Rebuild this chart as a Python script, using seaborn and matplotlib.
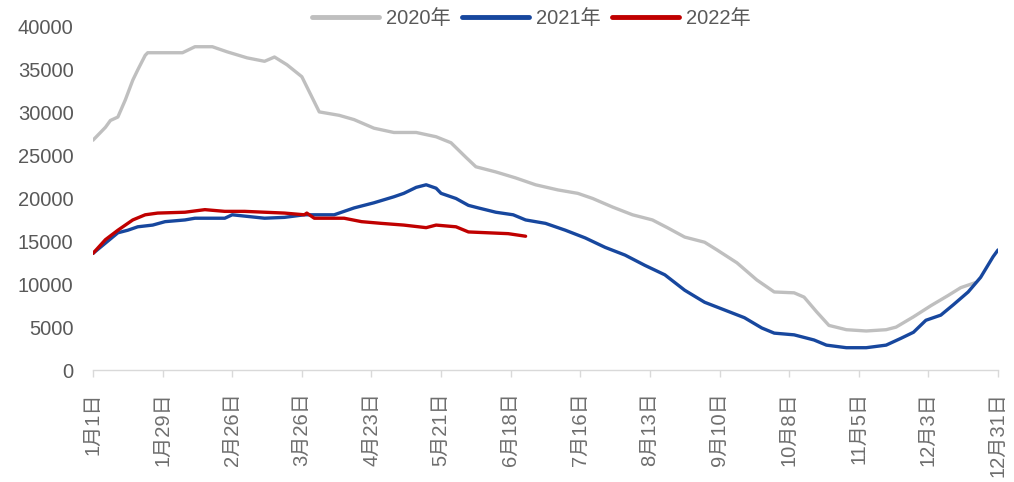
import numpy as np
import pandas as pd
import matplotlib
matplotlib.use("Agg")
import matplotlib.pyplot as plt
import seaborn as sns

# ---- data (day index from Jan 1) ----
days_2020 = [0, 3, 5, 7, 10, 13, 16, 18, 21, 22, 36, 41, 48, 54, 62, 69, 73, 78, 84, 91,
             99, 105, 113, 121, 130, 138, 144, 150, 154, 162, 170, 178, 187, 195, 201, 209,
             217, 225, 231, 238, 246, 251, 259, 267, 274, 282, 286, 291, 296, 303, 311, 319,
             323, 330, 337, 344, 349, 355]
vals_2020 = [26800, 27700, 28300, 29100, 29500, 31500, 33800, 35000, 36700, 37000, 37000,
             37700, 37700, 37100, 36400, 36000, 36500, 35600, 34200, 30100, 29700, 29200,
             28200, 27700, 27700, 27200, 26500, 24800, 23700, 23100, 22400, 21600, 21000,
             20600, 20000, 19000, 18100, 17500, 16600, 15500, 14900, 14000, 12500, 10500,
             9100, 9000, 8500, 6800, 5200, 4700, 4550, 4700, 5000, 6200, 7500, 8700, 9600,
             10200]

days_2021 = [0, 5, 10, 14, 18, 24, 29, 37, 41, 53, 56, 69, 77, 85, 97, 105, 113, 121, 125,
             130, 134, 138, 140, 146, 151, 155, 162, 169, 174, 182, 190, 198, 206, 214, 222,
             230, 238, 246, 254, 262, 269, 274, 282, 290, 295, 303, 311, 319, 325, 330, 335,
             341, 346, 352, 357, 362, 364]
vals_2021 = [13600, 14800, 16000, 16300, 16700, 16900, 17300, 17500, 17700, 17700, 18100,
             17700, 17800, 18100, 18100, 18900, 19500, 20200, 20600, 21300, 21600, 21200,
             20600, 20000, 19200, 18900, 18400, 18100, 17500, 17100, 16300, 15400, 14300,
             13400, 12200, 11100, 9300, 7900, 7000, 6100, 4900, 4300, 4100, 3500, 2900,
             2600, 2600, 2900, 3700, 4400, 5800, 6400, 7600, 9100, 10800, 13200, 14000]

days_2022 = [0, 5, 10, 16, 21, 26, 37, 45, 53, 61, 69, 77, 85, 86, 89, 101, 108, 116, 125,
             134, 138, 146, 151, 159, 167, 174]
vals_2022 = [13600, 15200, 16300, 17500, 18100, 18300, 18400, 18700, 18500, 18500, 18400,
             18300, 18100, 18300, 17700, 17700, 17300, 17100, 16900, 16600, 16900, 16700,
             16100, 16000, 15900, 15600]

series_names = ["2020年", "2021年", "2022年"]
tick_days = [0, 28, 56, 84, 112, 140, 168, 196, 224, 252, 280, 308, 336, 364]
tick_labels = ["1月1日", "1月29日", "2月26日", "3月26日", "4月23日", "5月21日", "6月18日",
               "7月16日", "8月13日", "9月10日", "10月8日", "11月5日", "12月3日", "12月31日"]
y_ticks = [0, 5000, 10000, 15000, 20000, 25000, 30000, 35000, 40000]

df = pd.concat([
    pd.DataFrame({"day": days_2020, "value": vals_2020, "year": series_names[0]}),
    pd.DataFrame({"day": days_2021, "value": vals_2021, "year": series_names[1]}),
    pd.DataFrame({"day": days_2022, "value": vals_2022, "year": series_names[2]}),
], ignore_index=True)

# ---- style ----
sns.set_theme(style="white")
plt.rcParams["font.family"] = ["Liberation Sans", "Noto Sans CJK SC", "DejaVu Sans"]

palette = {"2020年": "#BFBFBF", "2021年": "#17479E", "2022年": "#C00000"}
text_color = "#595959"
axis_color = "#D9D9D9"

fig = plt.figure(figsize=(10.14, 4.82), dpi=100)
ax = fig.add_axes([93 / 1014, 1 - 370 / 482, (998 - 93) / 1014, (370 - 27) / 482])

sns.lineplot(data=df, x="day", y="value", hue="year", palette=palette,
             hue_order=series_names, linewidth=2.4, ax=ax, legend=False,
             estimator=None, sort=True)

ax.set_xlim(0, 364)
ax.set_ylim(0, 40000)
ax.set_xticks(tick_days)
ax.set_xticklabels(tick_labels, rotation=90, ha="center", va="top")
ax.set_yticks(y_ticks)
ax.set_yticklabels([str(v) for v in y_ticks])
ax.set_xlabel("")
ax.set_ylabel("")

for s in ["top", "right", "left"]:
    ax.spines[s].set_visible(False)
ax.spines["bottom"].set_color(axis_color)
ax.spines["bottom"].set_linewidth(1.0)

ax.tick_params(axis="x", which="major", direction="out", length=5, width=1,
               color=axis_color, labelcolor="#6E6E6E", labelsize=14.5, pad=11, bottom=True)
ax.tick_params(axis="y", which="major", length=0, labelcolor=text_color,
               labelsize=14.5, pad=14)

handles = [plt.Line2D([], [], color=palette[n], linewidth=3.5) for n in series_names]
leg = fig.legend(handles, series_names, loc="center", bbox_to_anchor=(0.524, 0.962),
                 ncol=3, frameon=False, fontsize=14.5, handlelength=3.3,
                 handletextpad=0.35, columnspacing=0.6, labelcolor=text_color)

fig.savefig("out.png", dpi=100)
